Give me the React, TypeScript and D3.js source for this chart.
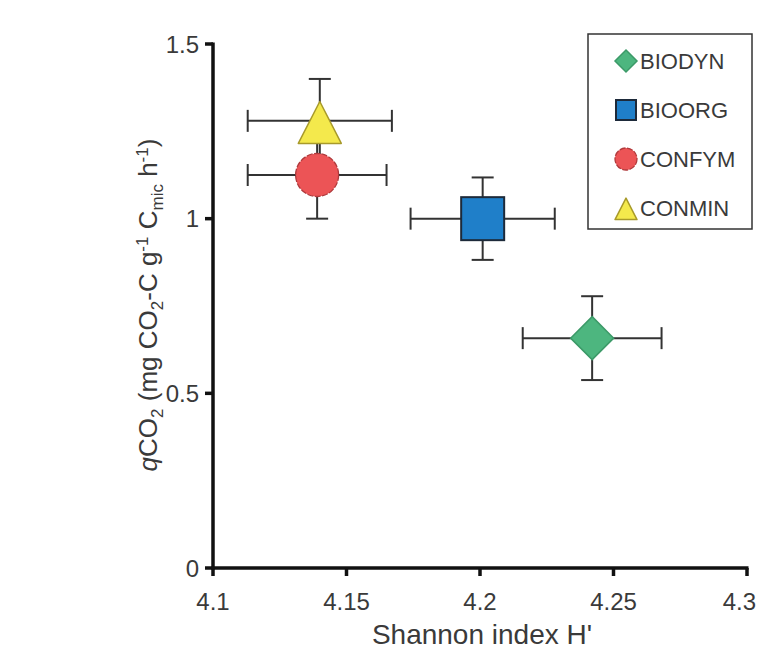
import React from "react";
import * as d3 from "d3";

// data
const treatments = ["BIODYN", "BIOORG", "CONFYM", "CONMIN"];
const shannon = [4.242, 4.201, 4.139, 4.14];
const shannonErr = [0.026, 0.027, 0.026, 0.027];
const qco2 = [0.658, 1.0, 1.125, 1.28];
const qco2Err = [0.12, 0.118, 0.125, 0.12];
const xTicks = [4.1, 4.15, 4.2, 4.25, 4.3];
const yTicks = [0, 0.5, 1, 1.5];

const fills: Record<string, string> = {
  BIODYN: "#4db67f",
  BIOORG: "#1f7fc9",
  CONFYM: "#ec5456",
  CONMIN: "#f4e94c",
};
const strokes: Record<string, string> = {
  BIODYN: "#3c9a68",
  BIOORG: "#1d2a3a",
  CONFYM: "#b03a3c",
  CONMIN: "#a89a2a",
};

const W = 759;
const H = 650;
const margin = { left: 213, right: 12, top: 44, bottom: 82 };
const FONT = "'Liberation Sans', Arial, Helvetica, sans-serif";
const TXT = "#3a3a3a";

function Marker({ name, cx, cy, s }: { name: string; cx: number; cy: number; s: number }) {
  const fill = fills[name];
  const stroke = strokes[name];
  if (name === "BIODYN") {
    const d = `M${cx},${cy - s}L${cx + s},${cy}L${cx},${cy + s}L${cx - s},${cy}Z`;
    return <path d={d} fill={fill} stroke={stroke} strokeWidth={1.5} />;
  }
  if (name === "BIOORG") {
    return (
      <rect x={cx - s} y={cy - s} width={2 * s} height={2 * s} fill={fill} stroke={stroke} strokeWidth={2} />
    );
  }
  if (name === "CONFYM") {
    return <circle cx={cx} cy={cy} r={s} fill={fill} stroke={stroke} strokeWidth={1.3} strokeDasharray="6,1.5" />;
  }
  const d = `M${cx},${cy - s * 0.9}L${cx + s},${cy + s * 1.05}L${cx - s},${cy + s * 1.05}Z`;
  return <path d={d} fill={fill} stroke={stroke} strokeWidth={1.5} strokeLinejoin="round" />;
}

export default function App() {
  const x = d3.scaleLinear().domain([4.1, 4.3]).range([margin.left, W - margin.right]);
  const y = d3.scaleLinear().domain([0, 1.5]).range([H - margin.bottom, margin.top]);
  const cap = 11;
  const errColor = "#333";

  const points = treatments.map((t, i) => ({
    name: t,
    x: shannon[i],
    xe: shannonErr[i],
    y: qco2[i],
    ye: qco2Err[i],
  }));

  return (
    <svg
      width={W}
      height={H}
      style={{ position: "absolute", left: 0, top: 0, background: "#fff" }}
      fontFamily={FONT}
    >
      {/* error bars */}
      {points.map((p) => (
        <g key={"err" + p.name} stroke={errColor} strokeWidth={2} fill="none">
          <line x1={x(p.x - p.xe)} x2={x(p.x + p.xe)} y1={y(p.y)} y2={y(p.y)} />
          <line x1={x(p.x - p.xe)} x2={x(p.x - p.xe)} y1={y(p.y) - cap} y2={y(p.y) + cap} />
          <line x1={x(p.x + p.xe)} x2={x(p.x + p.xe)} y1={y(p.y) - cap} y2={y(p.y) + cap} />
          <line x1={x(p.x)} x2={x(p.x)} y1={y(p.y - p.ye)} y2={y(p.y + p.ye)} />
          <line x1={x(p.x) - cap} x2={x(p.x) + cap} y1={y(p.y - p.ye)} y2={y(p.y - p.ye)} />
          <line x1={x(p.x) - cap} x2={x(p.x) + cap} y1={y(p.y + p.ye)} y2={y(p.y + p.ye)} />
        </g>
      ))}
      {/* markers: circle before triangle so triangle sits on top */}
      {treatments.map((n) => {
        const p = points.find((q) => q.name === n)!;
        return <Marker key={n} name={n} cx={x(p.x)} cy={y(p.y)} s={21.5} />;
      })}

      {/* axes */}
      <g stroke="#111" strokeWidth={3.5} fill="none">
        <line x1={x(4.1)} x2={x(4.1)} y1={y(1.5) - 1.5} y2={y(0) + 1.5} />
        <line x1={x(4.1) - 1.5} x2={x(4.3) + 1.5} y1={y(0)} y2={y(0)} />
        {xTicks.map((t) => (
          <line key={"xt" + t} x1={x(t)} x2={x(t)} y1={y(0)} y2={y(0) + 8} />
        ))}
        {yTicks.map((t) => (
          <line key={"yt" + t} x1={x(4.1) - 8} x2={x(4.1)} y1={y(t)} y2={y(t)} />
        ))}
      </g>
      {xTicks.map((t, i) => {
        const last = i === xTicks.length - 1;
        return (
          <text
            key={"xl" + t}
            x={last ? W - 3 : x(t)}
            y={610}
            textAnchor={last ? "end" : "middle"}
            fontSize={24}
            fill={TXT}
          >
            {d3.format("")(t)}
          </text>
        );
      })}
      {yTicks.map((t) => (
        <text key={"yl" + t} x={199} y={y(t)} dy="0.36em" textAnchor="end" fontSize={24} fill={TXT}>
          {d3.format("")(t)}
        </text>
      ))}
      <text x={482} y={644} textAnchor="middle" fontSize={28} fill={TXT}>
        Shannon index H'
      </text>
      <text transform="translate(157,305) rotate(-90)" textAnchor="middle" fontSize={26} fill={TXT}>
        <tspan fontStyle="italic">q</tspan>CO
        <tspan fontSize={17} dy={6}>2</tspan>
        <tspan dy={-6}> (mg CO</tspan>
        <tspan fontSize={17} dy={6}>2</tspan>
        <tspan dy={-6}>-C g</tspan>
        <tspan fontSize={17} dy={-9}>-1</tspan>
        <tspan dy={9}> C</tspan>
        <tspan fontSize={17} dy={6}>mic</tspan>
        <tspan dy={-6}> h</tspan>
        <tspan fontSize={17} dy={-9}>-1</tspan>
        <tspan dy={9}>)</tspan>
      </text>

      {/* legend */}
      <rect x={588} y={34} width={164} height={195} fill="#fff" stroke="#333" strokeWidth={1.5} />
      {treatments.map((t, i) => {
        const ly = 61 + i * 49;
        return (
          <g key={"lg" + t}>
            <Marker name={t} cx={626} cy={ly} s={t === "BIOORG" ? 10 : 11} />
            <text x={640} y={ly} dy="0.36em" fontSize={22} fill={TXT}>
              {t}
            </text>
          </g>
        );
      })}
    </svg>
  );
}
